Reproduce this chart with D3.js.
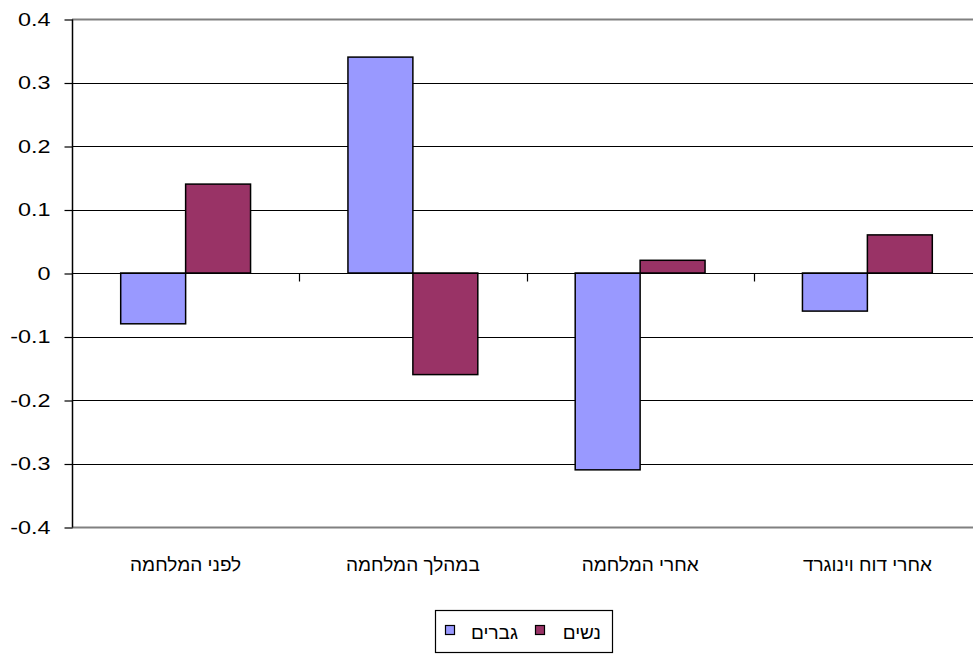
<!DOCTYPE html>
<html>
<head>
<meta charset="utf-8">
<script src="https://cdn.jsdelivr.net/npm/d3@7"></script>
<style>
  body { margin: 0; background: #fff; }
  svg { display: block; font-family: Arial, "Liberation Sans", sans-serif; }
</style>
</head>
<body>
<div class="chart"></div>
<script>
const categories = ["לפני המלחמה", "במהלך המלחמה", "אחרי המלחמה", "אחרי דוח וינוגרד"];
const men = [-0.08, 0.34, -0.31, -0.06];
const women = [0.14, -0.16, 0.02, 0.06];
const seriesNames = ["גברים", "נשים"];
const yTicks = [-0.4, -0.3, -0.2, -0.1, 0, 0.1, 0.2, 0.3, 0.4];

const width = 973;
const height = 655;
const marginTop = 19;
const marginRight = -8;
const marginBottom = 128;
const marginLeft = 72;

const colors = ["#9999FF", "#993366"];
const stretch = 1.3; // the number labels are drawn wide in the original

const xAxis = d3.scaleBand()
    .domain(categories)
    .range([marginLeft, width - marginRight])
    .paddingInner(0)
    .paddingOuter(0);

const yAxis = d3.scaleLinear()
    .domain([-0.4, 0.4])
    .range([height - marginBottom, marginTop]);

const svg = d3.select(".chart").append("svg")
    .attr("width", width)
    .attr("height", height);

// grid lines
svg.append("g")
    .selectAll("line")
    .data(yTicks)
    .join("line")
    .attr("x1", marginLeft)
    .attr("x2", width - marginRight)
    .attr("y1", d => Math.round(yAxis(d)) + 0.5)
    .attr("y2", d => Math.round(yAxis(d)) + 0.5)
    .attr("stroke", d => (d === 0.4 || d === -0.4) ? "#808080" : "#000")
    .attr("stroke-width", d => (d === 0.4 || d === -0.4) ? 2 : 1.2);

// bars
const groupWidth = xAxis.bandwidth();
const barWidth = groupWidth / 3.5;
const data = [men, women];

data.forEach((values, s) => {
    svg.append("g")
        .selectAll("rect")
        .data(values)
        .join("rect")
        .attr("x", (d, i) => xAxis(categories[i]) + groupWidth * 0.75 / 3.5 + s * barWidth)
        .attr("y", d => yAxis(Math.max(0, d)))
        .attr("width", barWidth)
        .attr("height", d => Math.abs(yAxis(d) - yAxis(0)))
        .attr("fill", colors[s])
        .attr("stroke", "#000")
        .attr("stroke-width", 1.5);
});

// y axis, plain hyphen for negatives like the original
const fmt = d => d === 0 ? "0" : d.toFixed(1);
const yG = svg.append("g")
    .attr("transform", `translate(${marginLeft + 0.5},0.5)`)
    .call(d3.axisLeft(yAxis).tickValues(yTicks).tickSize(8).tickPadding(14).tickFormat(fmt));
yG.select(".domain").attr("stroke", "#000").attr("stroke-width", 1.5)
    .attr("d", `M0,${yAxis(0.4)}V${yAxis(-0.4)}`);
yG.selectAll("line").attr("stroke", "#000").attr("stroke-width", 1.2);
yG.selectAll("text")
    .attr("font-size", 18)
    .attr("fill", "#000")
    .attr("font-family", "Arial, 'Liberation Sans', sans-serif")
    .attr("x", -22 / stretch)
    .attr("transform", `scale(${stretch},1)`);

// zero line with category tick marks
const x0 = Math.round(yAxis(0)) + 0.5;
svg.append("line")
    .attr("x1", marginLeft).attr("x2", width - marginRight)
    .attr("y1", x0).attr("y2", x0)
    .attr("stroke", "#000").attr("stroke-width", 1.2);
svg.append("g")
    .selectAll("line")
    .data(categories.slice(1))
    .join("line")
    .attr("x1", d => Math.round(xAxis(d)) + 0.5)
    .attr("x2", d => Math.round(xAxis(d)) + 0.5)
    .attr("y1", x0)
    .attr("y2", x0 + 8)
    .attr("stroke", "#000").attr("stroke-width", 1.2);

// category labels
svg.append("g")
    .selectAll("text")
    .data(categories)
    .join("text")
    .attr("x", d => xAxis(d) + groupWidth / 2)
    .attr("y", 571)
    .attr("text-anchor", "middle")
    .attr("direction", "rtl")
    .attr("font-size", 19)
    .attr("fill", "#000")
    .text(d => d);

// legend
const legend = svg.append("g");
legend.append("rect")
    .attr("x", 435.5).attr("y", 610.5)
    .attr("width", 177).attr("height", 42)
    .attr("fill", "#fff").attr("stroke", "#000").attr("stroke-width", 1.2);

const legendX = [445, 535];
const legendTextX = [518, 601];
seriesNames.forEach((name, s) => {
    legend.append("rect")
        .attr("x", legendX[s] + 0.5).attr("y", 625.5)
        .attr("width", 9).attr("height", 9)
        .attr("fill", colors[s]).attr("stroke", "#000").attr("stroke-width", 1.2);
    legend.append("text")
        .attr("x", legendTextX[s])
        .attr("y", 639)
        .attr("text-anchor", "end")
        .attr("font-size", 19)
        .attr("fill", "#000")
        .text(name);
});
</script>
</body>
</html>
